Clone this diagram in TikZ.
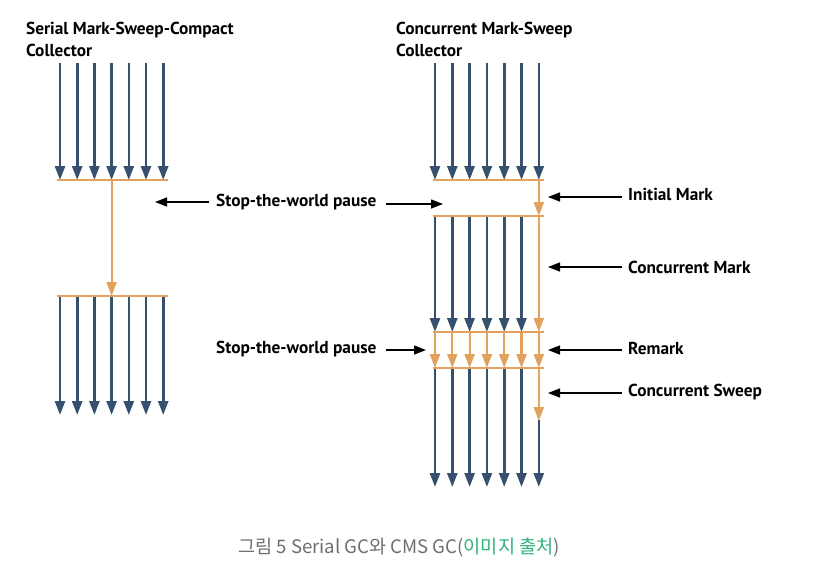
\documentclass[tikz,border=0pt]{standalone}
\usepackage{fontspec}
\usepackage{tikz}
\usetikzlibrary{arrows.meta}
\newfontfamily\lblfont{PT Sans}
\newfontfamily\krfont{Noto Sans CJK KR}
\definecolor{thread}{HTML}{37506F}
\definecolor{gcline}{HTML}{E3A15E}
\definecolor{capgrey}{HTML}{6E6E6E}
\definecolor{capgreen}{HTML}{2DB37B}

\tikzset{
  app/.style={draw=thread, line width=2.6pt, -{Triangle[width=10pt,length=14pt]}},
  gc/.style={draw=gcline, line width=2.2pt, -{Triangle[width=10pt,length=14pt]}},
  bar/.style={draw=gcline, line width=1.8pt},
  hint/.style={draw=black, line width=1.4pt, {Triangle[width=9pt,length=12pt]}-},
  title/.style={font=\lblfont\bfseries\fontsize{17.3}{22}\selectfont, anchor=west, align=left, inner sep=0pt},
  phase/.style={font=\lblfont\bfseries\fontsize{17.3}{22}\selectfont, anchor=west, inner sep=0pt}
}

\begin{document}
\begin{tikzpicture}[x=1pt,y=-1pt]
\useasboundingbox (0,0) rectangle (830,587);

% titles
\node[title] (serial) at (26,39) {Serial Mark-Sweep-Compact\\Collector};
\node[title] (cms) at (396,39) {Concurrent Mark-Sweep\\Collector};

% serial collector
\foreach \i in {0,...,6}
  \draw[app] (60+17.2*\i,63) -- (60+17.2*\i,180);
\draw[bar] (57,180) -- (168,180);
\draw[gc] (111.6,180) -- (111.6,296);
\draw[bar] (57,296) -- (168,296);
\foreach \i in {0,...,6}
  \draw[app] (60+17.2*\i,297) -- (60+17.2*\i,415);

% concurrent mark-sweep collector
\foreach \i in {0,...,6}
  \draw[app] (435+17.3*\i,63) -- (435+17.3*\i,180);
\draw[bar] (433,180) -- (544,180);
\draw[gc] (538.8,180) -- (538.8,216);
\draw[bar] (433,216) -- (544,216);
\foreach \i in {0,...,5}
  \draw[app] (435+17.3*\i,217) -- (435+17.3*\i,332);
\draw[gc] (538.8,217) -- (538.8,332);
\draw[bar] (433,332) -- (544,332);
\foreach \i in {0,...,6}
  \draw[gc] (435+17.3*\i,333) -- (435+17.3*\i,368);
\draw[bar] (433,368) -- (544,368);
\foreach \i in {0,...,5}
  \draw[app] (435+17.3*\i,369) -- (435+17.3*\i,487);
\draw[gc] (538.8,369) -- (538.8,421);
\draw[app] (538.8,420) -- (538.8,487);

% phase labels
\node[phase] (stw1) at (216,202) {Stop-the-world pause};
\node[phase] (stw2) at (216,349) {Stop-the-world pause};
\node[phase] (init) at (628,194) {Initial Mark};
\node[phase] (cmark) at (628,267) {Concurrent Mark};
\node[phase] (remark) at (628,348) {Remark};
\node[phase] (csweep) at (628,392) {Concurrent Sweep};

\coordinate (stw1l) at (155,202);
\coordinate (stw1r) at (443,204);
\coordinate (stw2r) at (426,350);
\coordinate (initp) at (548,197);
\coordinate (cmarkp) at (548,267);
\coordinate (remarkp) at (548,350);
\coordinate (csweepp) at (548,393);

\draw[hint] (stw1l) -- ([xshift=-7pt]stw1.west |- stw1l);
\draw[hint] (stw1r) -- ([xshift=9pt]stw1.east |- stw1r);
\draw[hint] (stw2r) -- ([xshift=9pt]stw2.east |- stw2r);
\draw[hint] (initp) -- ([xshift=-6pt]init.west |- initp);
\draw[hint] (cmarkp) -- ([xshift=-6pt]cmark.west |- cmarkp);
\draw[hint] (remarkp) -- ([xshift=-6pt]remark.west |- remarkp);
\draw[hint] (csweepp) -- ([xshift=-6pt]csweep.west |- csweepp);

% caption
\node[font=\krfont\fontsize{18.6}{22}\selectfont, text=capgrey] (caption) at (399,548)
  {그림 5 Serial GC와 CMS GC(\textcolor{capgreen}{이미지 출처})};
\end{tikzpicture}
\end{document}
